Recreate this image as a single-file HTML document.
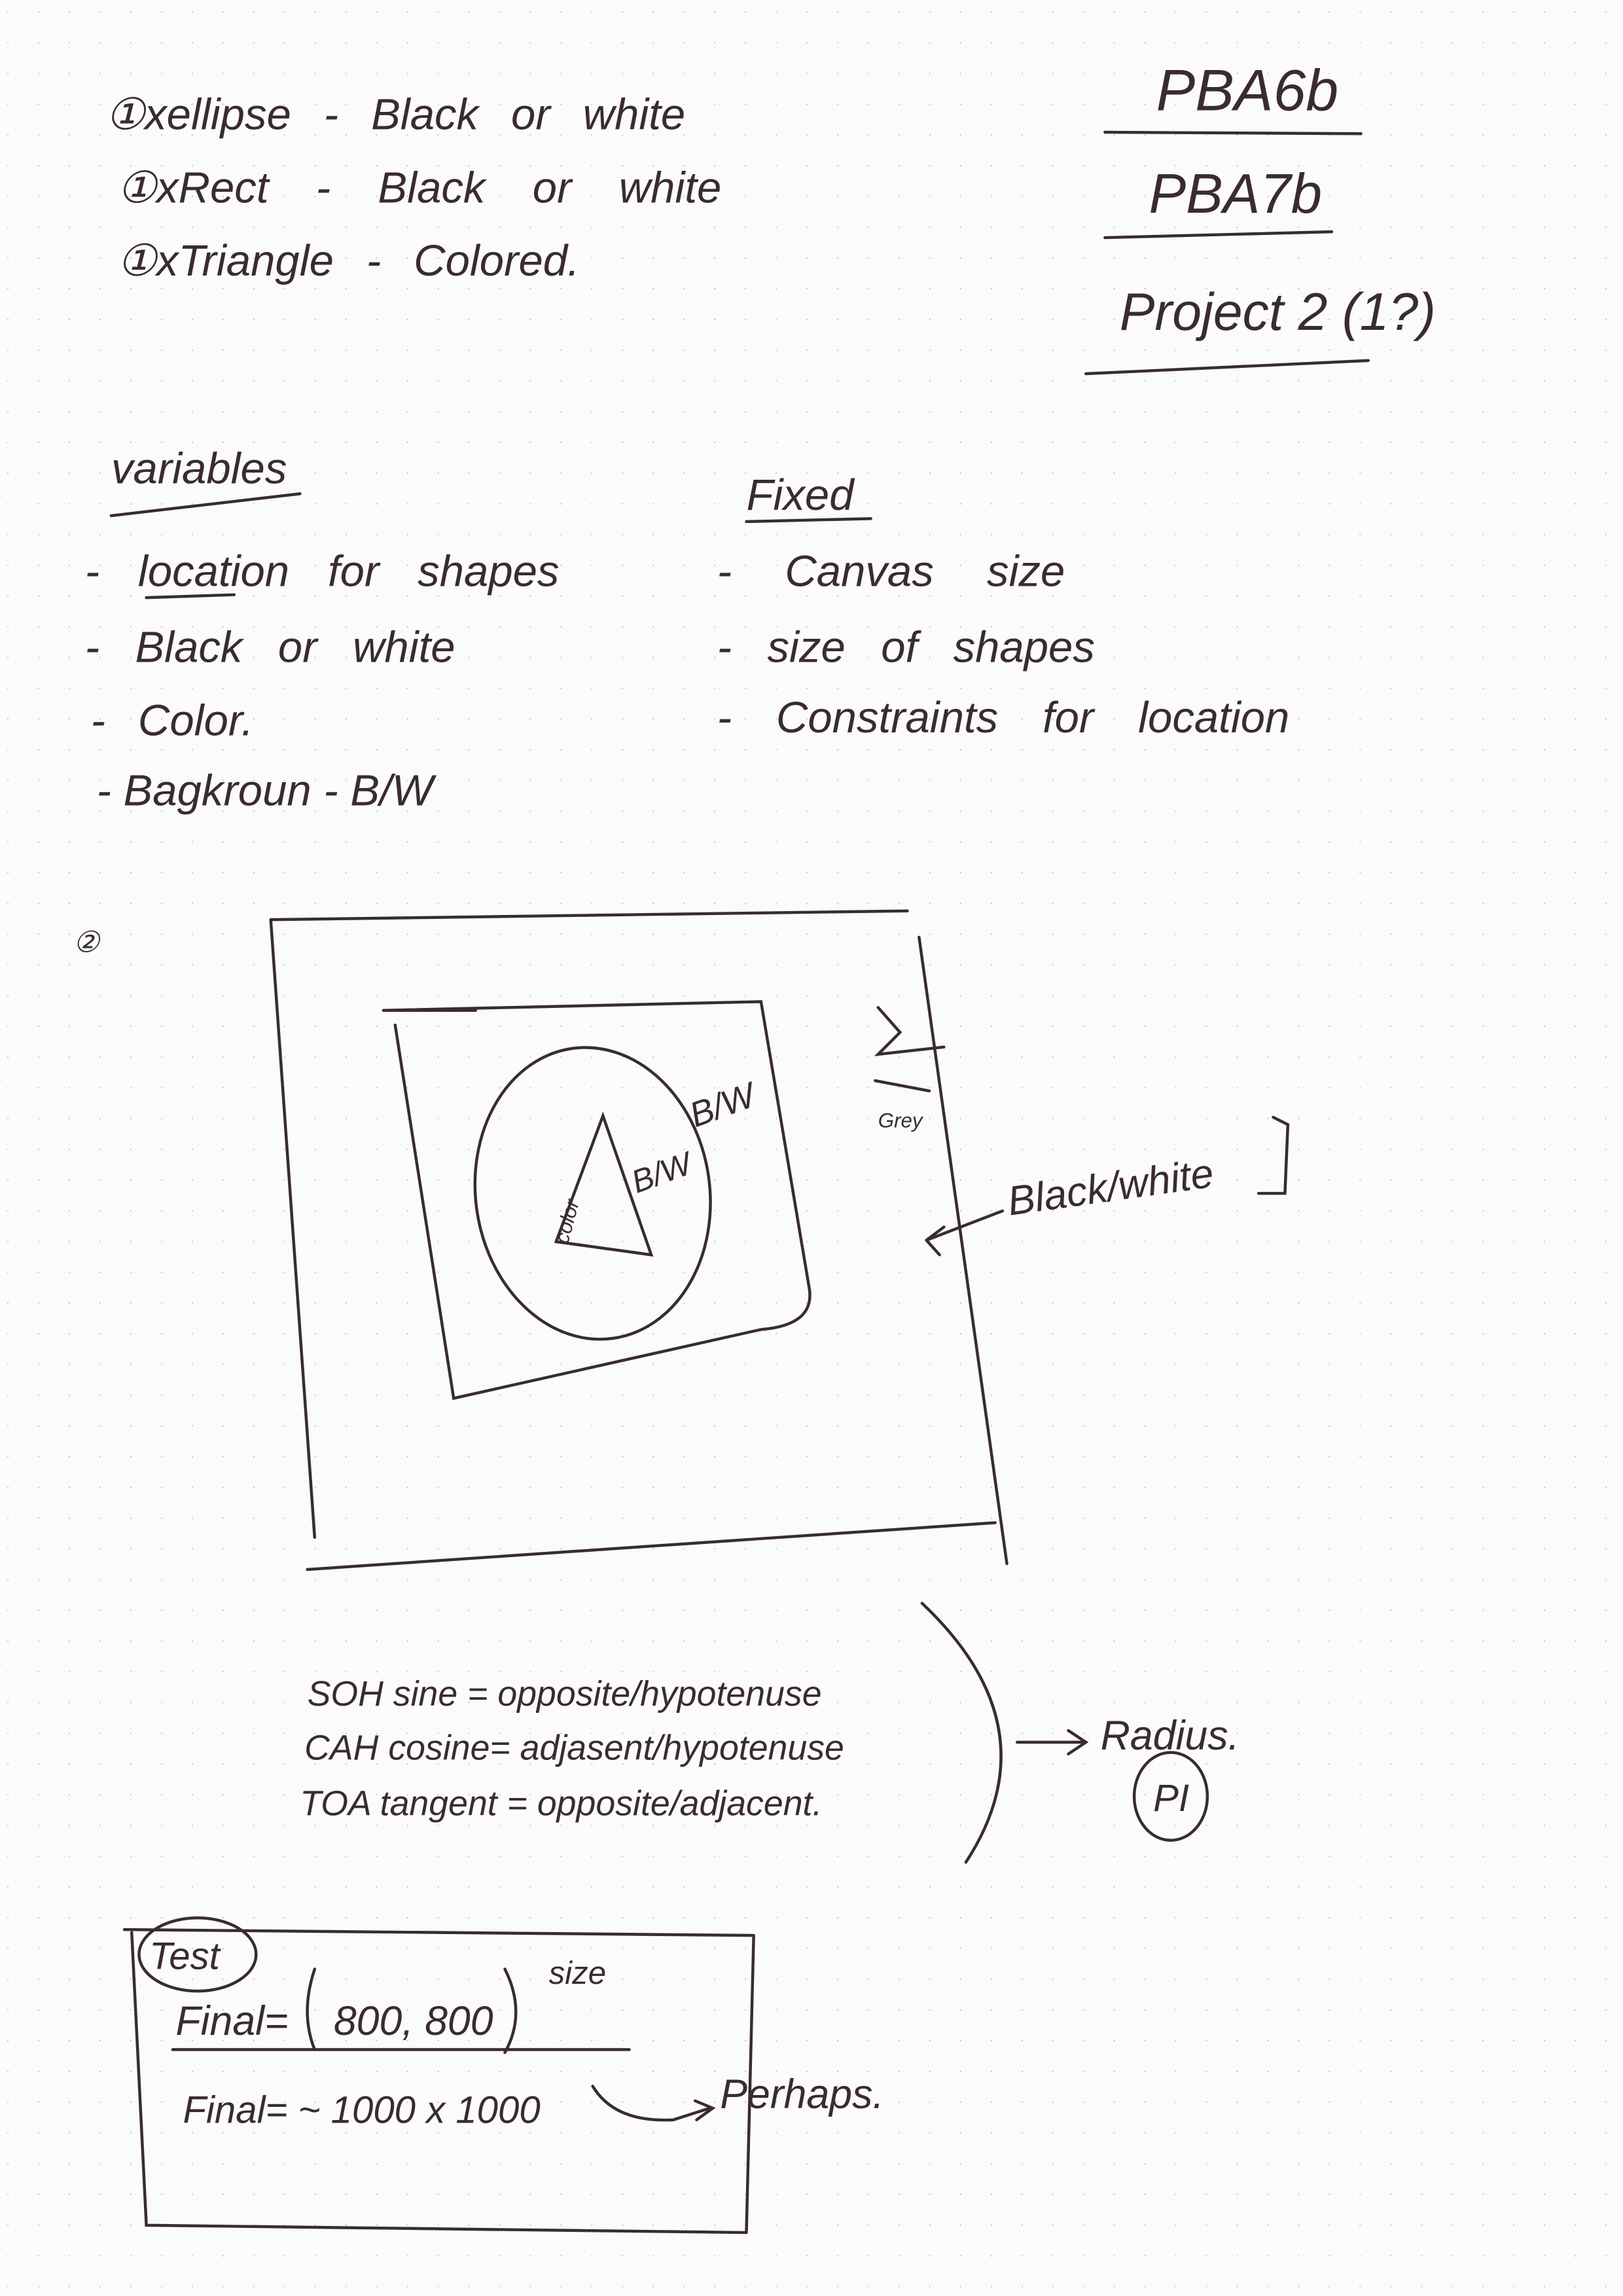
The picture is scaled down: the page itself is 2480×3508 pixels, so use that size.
<!DOCTYPE html>
<html><head><meta charset="utf-8"><style>
html,body{margin:0;padding:0;background:#fbfbfb;}
svg{display:block}
text{font-family:"Liberation Sans",sans-serif;fill:#3a2c2c;font-style:italic}
</style></head><body>
<svg width="2480" height="3508" viewBox="0 0 1109 1568" xmlns="http://www.w3.org/2000/svg">
<defs><pattern id="d" x="26" y="7.5" width="21" height="21" patternUnits="userSpaceOnUse"><circle cx="0" cy="0" r="0.9" fill="#bbb"/></pattern></defs>
<rect width="1109" height="1568" fill="#fbfbfb"/>
<rect width="1109" height="1568" fill="url(#d)"/>
<g fill="none" stroke="#3a2c2c" stroke-width="2" stroke-linecap="round">
<line x1="755" y1="90" x2="930" y2="91"/>
<line x1="755" y1="162" x2="910" y2="158"/>
<line x1="742" y1="255" x2="935" y2="246"/>
<line x1="76" y1="352" x2="205" y2="337"/>
<line x1="510" y1="356" x2="595" y2="354"/>
<line x1="100" y1="408" x2="160" y2="406"/>
<path d="M185 628 L620 622 M628 640 L688 1068 M210 1072 L680 1040 M185 628 L215 1050"/>
<path d="M262 690 L520 684 L553 880 Q557 905 520 908 L310 955 L270 700 M262 690 L325 690"/>
<ellipse cx="405" cy="815" rx="80" ry="100" transform="rotate(-8 405 815)"/>
<path d="M412 762 L445 857 L380 848 Z"/>
<path d="M600 688 L615 705 L600 720 L645 715 M598 738 L635 745"/>
<path d="M685 827 L633 847 M633 847 L645 838 M633 847 L642 857"/>
<path d="M870 763 L880 768 L878 815 L860 815"/>
<path d="M630 1095 Q720 1180 660 1272"/>
<path d="M695 1190 L740 1190 M730 1182 L742 1190 L730 1198"/>
<ellipse cx="800" cy="1227" rx="25" ry="30"/>
<path d="M85 1318 L515 1322 M90 1320 L100 1520 L510 1525 M515 1322 L510 1525"/>
<ellipse cx="135" cy="1335" rx="40" ry="25"/>
<path d="M215 1345 Q205 1375 215 1400 M345 1345 Q360 1375 345 1402"/>
<line x1="118" y1="1400" x2="430" y2="1400"/>
<path d="M405 1425 Q420 1450 460 1448 L485 1440 M475 1435 L487 1440 L476 1448"/>
</g>
<g font-size="30">
<text x="72" y="88" word-spacing="14">①xellipse  -  Black or white</text>
<text x="80" y="138" word-spacing="24">①xRect - Black or white</text>
<text x="80" y="188" word-spacing="14">①xTriangle - Colored.</text>
<text x="790" y="75" font-size="40" font-style="normal">PBA6b</text>
<text x="785" y="145" font-size="38" font-style="normal">PBA7b</text>
<text x="765" y="225" font-size="36">Project 2 (1?)</text>
<text x="76" y="330">variables</text>
<text x="510" y="348">Fixed</text>
<text x="58" y="400" word-spacing="18">- location for shapes</text>
<text x="58" y="452" word-spacing="16">- Black or white</text>
<text x="62" y="502" word-spacing="14">- Color.</text>
<text x="66" y="550">- Bagkroun - B/W</text>
<text x="490" y="400" word-spacing="28">- Canvas size</text>
<text x="490" y="452" word-spacing="16">- size of shapes</text>
<text x="490" y="500" word-spacing="22">- Constraints for location</text>
<text x="50" y="650" font-size="20">②</text>
<text x="475" y="770" font-size="24" transform="rotate(-20 475 770)">B/W</text>
<text x="435" y="815" font-size="22" transform="rotate(-20 435 815)">B/W</text>
<text x="388" y="850" font-size="14" transform="rotate(-75 388 850)">color</text>
<text x="600" y="770" font-size="14">Grey</text>
<text x="690" y="830" font-size="28" transform="rotate(-8 690 830)">Black/white</text>
<text x="210" y="1165" font-size="24">SOH  sine = opposite/hypotenuse</text>
<text x="208" y="1202" font-size="24">CAH  cosine= adjasent/hypotenuse</text>
<text x="205" y="1240" font-size="24">TOA   tangent = opposite/adjacent.</text>
<text x="752" y="1195" font-size="28">Radius.</text>
<text x="788" y="1237" font-size="26" font-style="normal">PI</text>
<text x="102" y="1345" font-size="26">Test</text>
<text x="120" y="1390" font-size="28">Final=</text>
<text x="228" y="1390" font-size="28">800, 800</text>
<text x="375" y="1355" font-size="22">size</text>
<text x="125" y="1450" font-size="26">Final= ~ 1000 x 1000</text>
<text x="492" y="1440" font-size="28">Perhaps.</text>
</g>
</svg>
</body></html>
